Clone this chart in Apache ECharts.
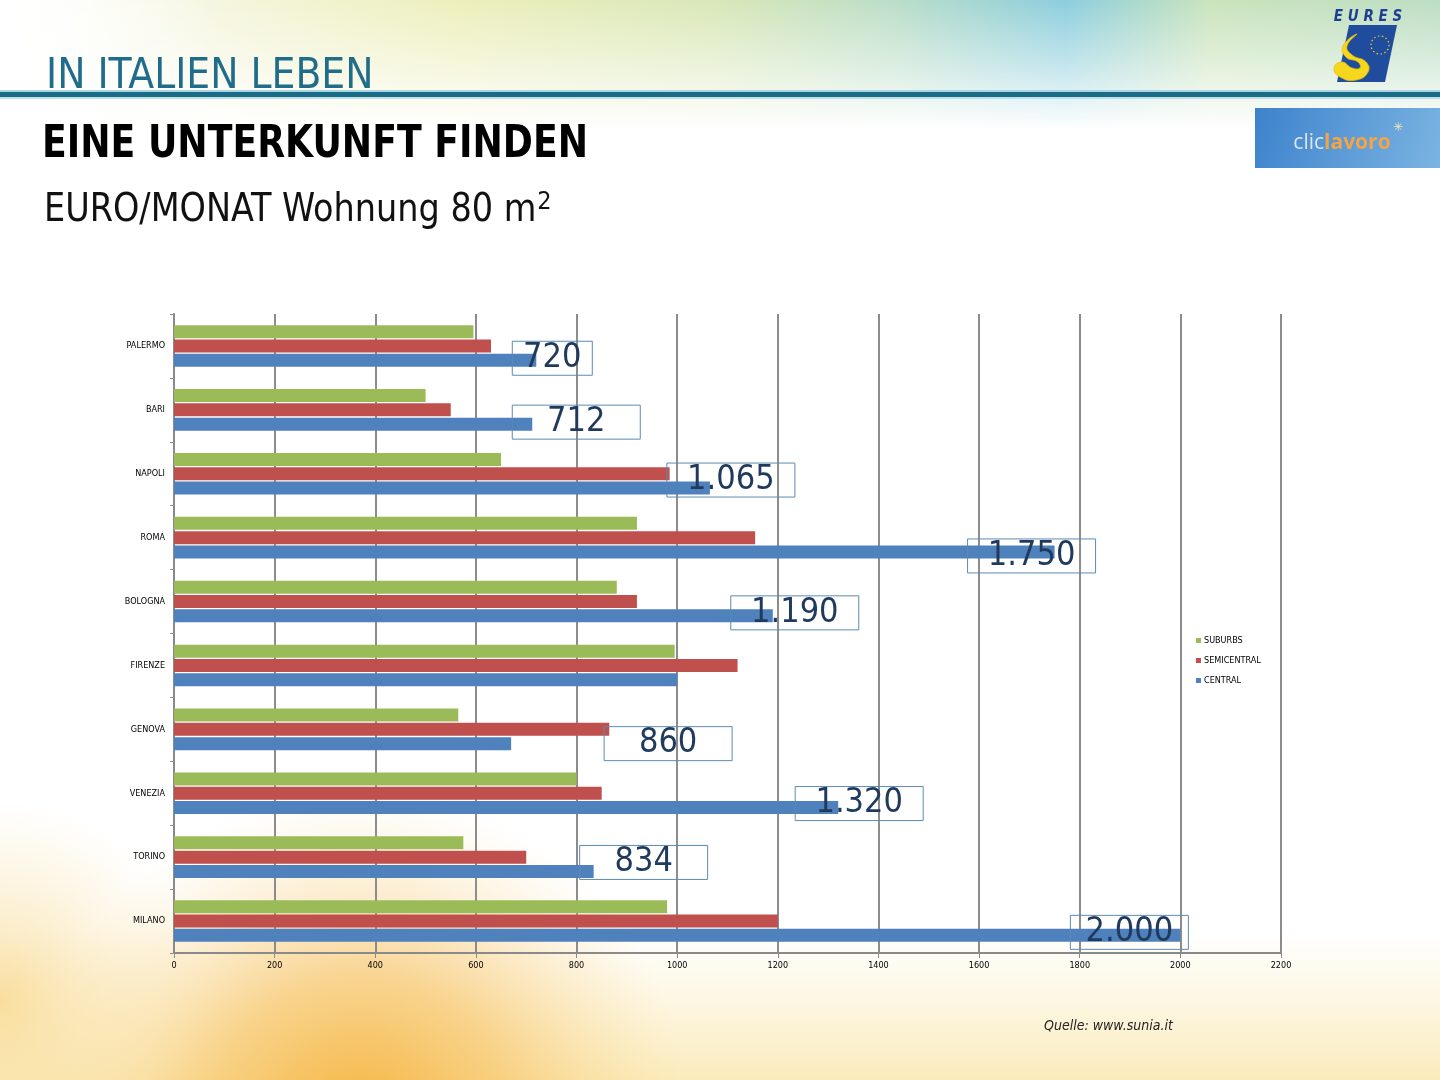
<!DOCTYPE html>
<html>
<head>
<meta charset="utf-8">
<script src="https://cdn.jsdelivr.net/npm/echarts@6/dist/echarts.min.js"></script>
<style>
html,body{margin:0;padding:0;background:#fff;}
#chart{width:1440px;height:1080px;}
</style>
</head>
<body>
<div id="chart"></div>
<script>
// ---------- data ----------
const cities = ['PALERMO','BARI','NAPOLI','ROMA','BOLOGNA','FIRENZE','GENOVA','VENEZIA','TORINO','MILANO'];
const seriesNames = ['SUBURBS','SEMICENTRAL','CENTRAL'];
const suburbs = [595,500,650,920,880,995,565,800,575,980];
const semicentral = [630,550,985,1155,920,1120,865,850,700,1200];
const central = [720,712,1065,1750,1190,1000,670,1320,834,2000];
const centralLabels = ['720','712','1.065','1.750','1.190','','860','1.320','834','2.000'];
const axisMin = 0, axisMax = 2200, axisStep = 200;

// ---------- annotation box layout (relative to bar end) ----------
const boxShiftX = [16,44,21,-23,22,0,157,21,50,-51];
const boxShiftY = [-2,-2,-8,4,-3,0,0,-4,-9,-3];
const boxWidth  = [80,128,128,128,128,0,128,128,128,118];

const FONT = "'Liberation Sans Narrow','DejaVu Sans Condensed','Liberation Sans',sans-serif";
const colors = ['#9BBB59','#C0504D','#4F81BD'];

const chart = echarts.init(document.getElementById('chart'), null, {renderer:'canvas'});

// measure for superscript position
const mctx = document.createElement('canvas').getContext('2d');
mctx.font = "39px " + FONT;
const subScale = 0.955;
const subW = mctx.measureText('EURO/MONAT Wohnung 80 m').width * subScale;

const centralData = central.map((v,i) => ({
  value: v,
  label: centralLabels[i] ? {
    show: true,
    formatter: centralLabels[i],
    position: 'right',
    distance: 0,
    align: 'center',
    verticalAlign: 'middle',
    offset: [boxShiftX[i], boxShiftY[i]],
    width: boxWidth[i],
    lineHeight: 34,
    fontSize: 34,
    fontFamily: FONT,
    color: '#1f3a5c',
    borderColor: '#5b8bb3',
    borderWidth: 1,
    padding: 0
  } : {show:false}
}));

const bg = [
  {type:'rect', shape:{x:0,y:0,width:1440,height:1080}, style:{fill:'#ffffff'}, z:-10, silent:true},
  {type:'rect', shape:{x:0,y:0,width:1440,height:130}, z:-9, silent:true,
   style:{fill:new echarts.graphic.LinearGradient(0,0,1,0,[
     {offset:0,color:'#ffffff'},{offset:0.15,color:'#f4f5dc'},{offset:0.32,color:'#eceeb8'},
     {offset:0.5,color:'#d6e6b4'},{offset:0.62,color:'#b7dcc4'},{offset:0.74,color:'#86cbdc'},
     {offset:0.84,color:'#c7e2b8'},{offset:1,color:'#b9dcc0'}])}},
  {type:'rect', shape:{x:0,y:0,width:1440,height:130}, z:-8, silent:true,
   style:{fill:new echarts.graphic.LinearGradient(0,0,0,1,[
     {offset:0,color:'rgba(255,255,255,0.05)'},{offset:0.55,color:'rgba(255,255,255,0.55)'},{offset:1,color:'rgba(255,255,255,1)'}])}},
  {type:'rect', shape:{x:0,y:0,width:220,height:130}, z:-8, silent:true,
   style:{fill:new echarts.graphic.LinearGradient(0,0,1,0,[
     {offset:0,color:'rgba(255,255,255,0.9)'},{offset:1,color:'rgba(255,255,255,0)'}])}},
  {type:'rect', shape:{x:0,y:930,width:1440,height:150}, z:-9, silent:true,
   style:{fill:new echarts.graphic.LinearGradient(0,0,0,1,[
     {offset:0,color:'rgba(250,236,190,0)'},{offset:1,color:'rgba(250,232,175,0.85)'}])}},
  {type:'circle', shape:{cx:360,cy:1120,r:330}, z:-8, silent:true,
   style:{fill:new echarts.graphic.RadialGradient(0.5,0.5,0.5,[
     {offset:0,color:'rgba(245,178,60,0.95)'},{offset:0.45,color:'rgba(246,190,90,0.6)'},{offset:1,color:'rgba(250,220,160,0)'}])}},
  {type:'circle', shape:{cx:0,cy:1000,r:200}, z:-8, silent:true,
   style:{fill:new echarts.graphic.RadialGradient(0.5,0.5,0.5,[
     {offset:0,color:'rgba(248,215,140,0.8)'},{offset:1,color:'rgba(250,230,180,0)'}])}},
  // header rule
  {type:'rect', shape:{x:0,y:90,width:1440,height:2}, style:{fill:'#a9d6e2'}, z:-5, silent:true},
  {type:'rect', shape:{x:0,y:92,width:1440,height:5}, style:{fill:'#1b6b86'}, z:-5, silent:true},
  {type:'rect', shape:{x:0,y:97,width:1440,height:2}, style:{fill:'#bfe2ea'}, z:-5, silent:true},
  // titles
  {type:'text', x:46, y:77, silent:true, z:5,
   style:{text:'IN ITALIEN LEBEN', font:"42px "+FONT, fill:'#1f6d8a', verticalAlign:'middle'}},
  {type:'text', x:42, y:145, scaleX:0.895, silent:true, z:5,
   style:{text:'EINE UNTERKUNFT FINDEN', font:"bold 45px "+FONT, fill:'#000000', verticalAlign:'middle'}},
  {type:'text', x:44, y:211, scaleX:subScale, silent:true, z:5,
   style:{text:'EURO/MONAT Wohnung 80 m', font:"39px "+FONT, fill:'#111111', verticalAlign:'middle'}},
  {type:'text', x:44 + subW + 1, y:202, silent:true, z:5,
   style:{text:'2', font:"25px "+FONT, fill:'#111111', verticalAlign:'middle'}},
  // source
  {type:'text', x:1044, y:1026, silent:true, z:5,
   style:{text:'Quelle: www.sunia.it', font:"italic 14px "+FONT, fill:'#222222', verticalAlign:'middle'}},
  // EURES logo
  {type:'text', x:1368, y:17, silent:true, z:5,
   style:{text:'E U R E S', font:"italic bold 15px "+FONT, fill:'#1c3f94', align:'center', verticalAlign:'middle'}},
  {type:'polygon', shape:{points:[[1349,25],[1397,25],[1385,82],[1337,82]]}, style:{fill:'#1f4c9c'}, z:5, silent:true},
  {type:'circle', shape:{cx:1380,cy:45,r:9}, style:{fill:'none',stroke:'#f2d21a',lineWidth:1.2,lineDash:[1.5,2.5]}, z:6, silent:true},
  {type:'polygon', z:6, silent:true,
   shape:{smooth:0.5, points:[[1357,34],[1347,46],[1352,55],[1366,62],[1368,72],[1356,80],[1340,77],[1334,68],[1342,62],[1352,68],[1360,68],[1358,62],[1346,57],[1343,46]]},
   style:{fill:'#f6d71e',stroke:'#e8c000',lineWidth:0.8}},
  // cliclavoro logo
  {type:'rect', shape:{x:1255,y:108,width:185,height:60}, z:5, silent:true,
   style:{fill:new echarts.graphic.LinearGradient(0,0,1,1,[
     {offset:0,color:'#3d82cc'},{offset:1,color:'#7bb4e2'}])}},
  {type:'text', x:1342, y:143, silent:true, z:6,
   style:{text:'{a|clic}{b|lavoro}', align:'center', verticalAlign:'middle',
     rich:{a:{font:"21px 'Open Sans',sans-serif", fill:'#dde6ee'}, b:{font:"bold 21px 'Open Sans',sans-serif", fill:'#f2a447'}}}},
  {type:'text', x:1398, y:128, silent:true, z:6,
   style:{text:'✳', font:"12px 'DejaVu Sans'", fill:'#f5e6b0', align:'center', verticalAlign:'middle'}}
];

const option = {
  animation: false,
  textStyle: {fontFamily: FONT},
  graphic: {elements: bg},
  legend: {
    data: seriesNames,
    orient: 'vertical',
    left: 1196, top: 636, padding: 0,
    icon: 'rect', itemWidth: 5, itemHeight: 5, itemGap: 11,
    textStyle: {fontSize: 9, color: '#000', fontFamily: FONT, padding: [0,0,0,-2]}
  },
  grid: {left: 174, right: 159, top: 314, bottom: 127, containLabel: false},
  xAxis: {
    type: 'value', min: axisMin, max: axisMax, interval: axisStep,
    axisLine: {show: true, lineStyle: {color: '#8a8a8a', width: 2}},
    axisTick: {show: true, length: 5, lineStyle: {color: '#8a8a8a', width: 1}},
    axisLabel: {fontSize: 9, color: '#000', margin: 8, fontFamily: FONT, formatter: v => String(v)},
    splitLine: {show: true, lineStyle: {color: '#8c8c8c', width: 2}}
  },
  yAxis: {
    type: 'category', data: cities, inverse: true,
    axisLine: {show: true, lineStyle: {color: '#8a8a8a', width: 2}},
    axisTick: {show: true, length: 4, lineStyle: {color: '#8a8a8a', width: 1}},
    axisLabel: {fontSize: 9, color: '#000', margin: 9, fontFamily: FONT},
    splitLine: {show: false}
  },
  series: [
    {name: seriesNames[0], type: 'bar', data: suburbs, barWidth: 13, barGap: '10%', itemStyle: {color: colors[0]}},
    {name: seriesNames[1], type: 'bar', data: semicentral, barWidth: 13, barGap: '10%', itemStyle: {color: colors[1]}},
    {name: seriesNames[2], type: 'bar', data: centralData, barWidth: 13, barGap: '10%', itemStyle: {color: colors[2]}}
  ]
};
chart.setOption(option);
</script>
</body>
</html>
